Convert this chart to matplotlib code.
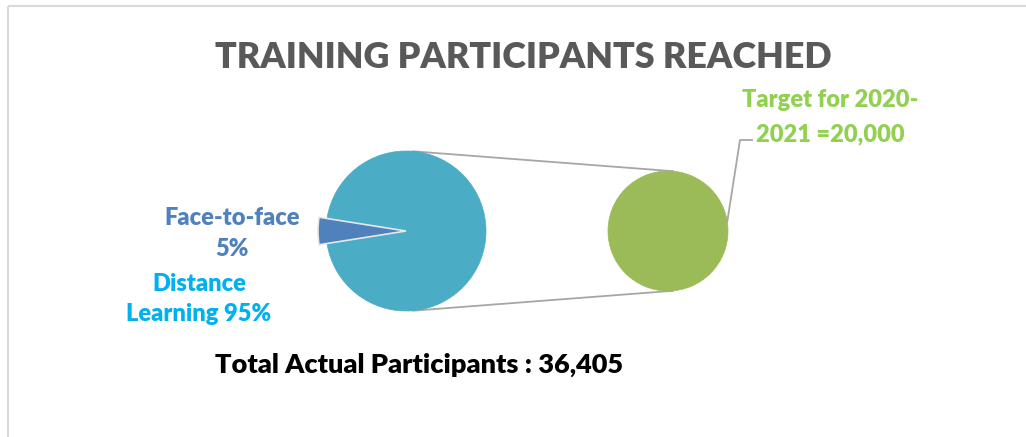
import matplotlib.pyplot as plt
from matplotlib.patches import Rectangle
import numpy as np

# data
modes = ['Distance Learning', 'Face-to-face']
shares = [95, 5]
target_year = '2020-2021'
target_value = 20000
total_actual = 36405

teal = '#4BACC6'
blue = '#4F81BD'
green = '#9BBB59'
line_gray = '#A6A6A6'
weight = 'heavy'

plt.rcParams['font.family'] = ['Lato', 'DejaVu Sans']

fig = plt.figure(figsize=(10.26, 4.37), dpi=100)
ax = fig.add_axes([0, 0, 1, 1])
ax.set_xlim(0, 1026)
ax.set_ylim(437, 0)
ax.set_aspect('equal')
ax.axis('off')

# chart frame (cut off at right and bottom)
ax.add_patch(Rectangle((8, 6), 1200, 600, fill=False, edgecolor='#D9D9D9', lw=1.5))

# main pie, face-to-face slice pulled out to the left
c1, r1 = (406, 231), 80
wedges, _ = ax.pie(shares, colors=[teal, blue], startangle=-171, center=c1, radius=r1,
                   explode=[0, 0.05], frame=True,
                   wedgeprops=dict(edgecolor='#E8E8E8', linewidth=1.2))
wedges[0].set_edgecolor(teal)
wedges[0].set_linewidth(0.5)
wedges[1].set_radius(r1 * 1.1)

# second pie: the target
c2, r2 = (668, 231), 60
ax.pie([target_value], colors=[green], center=c2, radius=r2, frame=True,
       wedgeprops=dict(edgecolor=green, linewidth=0.5))

# connector lines between the two pies
a = np.deg2rad(85)
for s in (1, -1):
    ax.plot([c1[0] + r1 * np.cos(a), c2[0] + r2 * np.cos(a)],
            [c1[1] - s * r1 * np.sin(a), c2[1] - s * r2 * np.sin(a)],
            color=line_gray, lw=1.3, zorder=0)

ax.set_xlim(0, 1026)
ax.set_ylim(437, 0)

# labels
ax.text(523, 68, 'TRAINING PARTICIPANTS REACHED', ha='center', va='baseline',
        fontsize=25.8, fontweight=weight, color='#595959')

ax.text(232, 225, modes[1], ha='center', va='baseline', fontsize=17,
        fontweight=weight, color=blue)
ax.text(232, 256, f'{shares[1]}%', ha='center', va='baseline', fontsize=17,
        fontweight=weight, color=blue)
ax.text(199, 291, modes[0].split()[0], ha='center', va='baseline', fontsize=17,
        fontweight=weight, color='#00B0F0')
ax.text(199, 321, f'{modes[0].split()[1]} {shares[0]}%', ha='center', va='baseline',
        fontsize=17, fontweight=weight, color='#00B0F0')

y1, y2 = target_year.split('-')
ax.text(830, 107, f'Target for {y1}-', ha='center', va='baseline', fontsize=17,
        fontweight=weight, color='#92D050')
ax.text(830, 141, f'{y2} ={target_value:,}', ha='center', va='baseline', fontsize=17,
        fontweight=weight, color='#92D050')
ax.plot([c2[0] + r2 * np.cos(np.deg2rad(9)), 740, 752],
        [c2[1] - r2 * np.sin(np.deg2rad(9)), 140, 140],
        color=line_gray, lw=1.3)

ax.text(419, 373, f'Total Actual Participants : {total_actual:,}', ha='center',
        va='baseline', fontsize=19.5, fontweight=weight, color='black')

fig.savefig('out.png', dpi=100)
